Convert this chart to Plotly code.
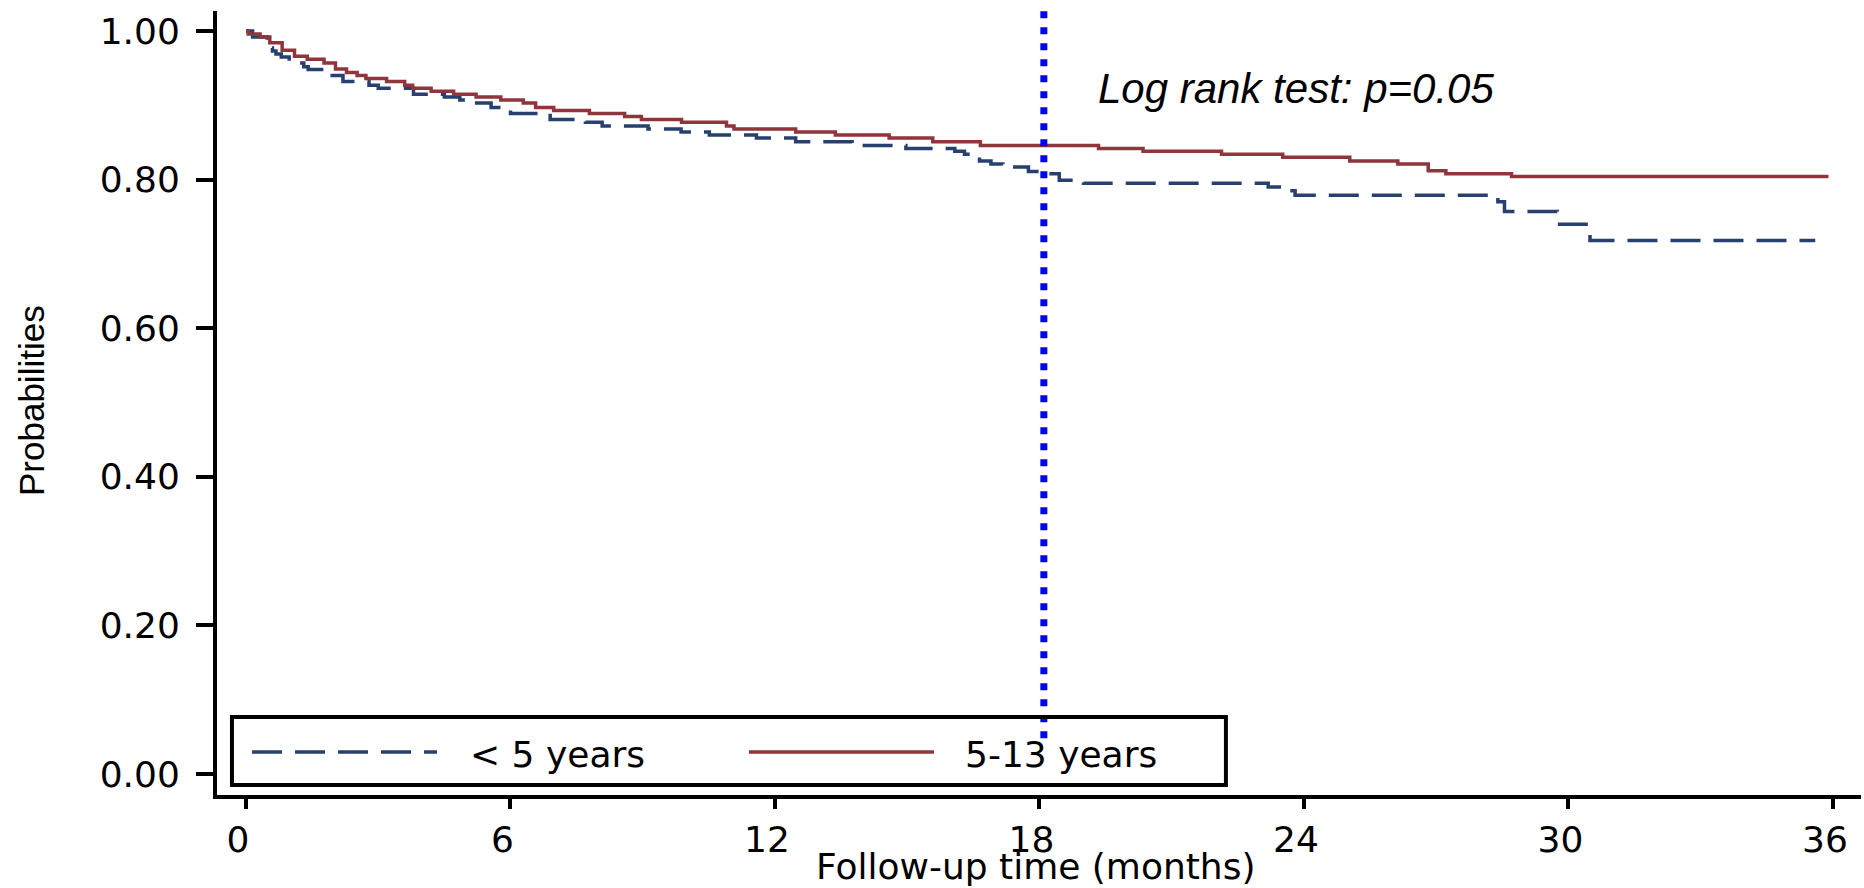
import plotly.graph_objects as go

# ---- data ----
series_names = ["< 5 years", "5-13 years"]

months_lt5 = [0, 0.15, 0.48, 0.60, 0.68, 0.80, 0.98, 1.31, 1.41, 1.81, 2.20, 2.79, 3.00,
              3.80, 4.50, 4.85, 5.05, 5.56, 6.00, 6.90, 7.70, 8.08, 9.12, 9.87, 10.51,
              11.58, 12.47, 13.75, 14.97, 16.08, 16.30, 16.64, 16.90, 17.17, 17.75, 18.06,
              18.45, 19.00, 23.19, 23.67, 23.80, 28.40, 28.55, 29.75, 30.49, 35.60]
surv_lt5 = [1.000, 0.992, 0.977, 0.973, 0.969, 0.965, 0.957, 0.952, 0.948, 0.940, 0.932, 0.927, 0.923,
            0.915, 0.911, 0.907, 0.903, 0.897, 0.889, 0.881, 0.877, 0.872, 0.868, 0.864, 0.860,
            0.856, 0.851, 0.846, 0.842, 0.838, 0.834, 0.825, 0.821, 0.817, 0.811, 0.808,
            0.799, 0.795, 0.790, 0.785, 0.779, 0.770, 0.757, 0.740, 0.718, 0.718]

months_5_13 = [0, 0.05, 0.32, 0.54, 0.82, 1.10, 1.39, 1.77, 2.03, 2.28, 2.52, 2.72, 3.19, 3.60,
               3.78, 4.20, 4.71, 5.22, 5.78, 6.29, 6.57, 6.98, 7.79, 8.59, 8.97, 9.88, 10.90,
               11.07, 12.47, 13.37, 14.59, 15.58, 16.66, 19.34, 20.35, 22.13, 23.52, 25.04,
               26.13, 26.82, 27.22, 28.71, 35.90]
surv_5_13 = [1.000, 0.996, 0.992, 0.984, 0.974, 0.966, 0.962, 0.957, 0.949, 0.944, 0.940, 0.936, 0.932, 0.927,
             0.923, 0.919, 0.915, 0.911, 0.907, 0.903, 0.897, 0.893, 0.889, 0.885, 0.881, 0.877, 0.872,
             0.868, 0.864, 0.860, 0.856, 0.851, 0.846, 0.842, 0.838, 0.834, 0.830, 0.825,
             0.821, 0.812, 0.808, 0.804, 0.804]

x_ticks = [0, 6, 12, 18, 24, 30, 36]
y_ticks = [0.0, 0.2, 0.4, 0.6, 0.8, 1.0]
cutoff_month = 18.1
cutoff_from = 0.048
annotation_text = "Log rank test: p=0.05"
x_title = "Follow-up time (months)"
y_title = "Probabilities"

# ---- styles ----
BLUE = "#27406F"
RED = "#90353B"
FONT = dict(family="DejaVu Sans", size=36, color="black")
DASH = "30px,13px"

fig = go.Figure()
fig.add_trace(go.Scatter(x=months_lt5, y=surv_lt5, mode="lines", line_shape="hv",
                         name=series_names[0],
                         line=dict(color=BLUE, width=3.5, dash=DASH)))
fig.add_trace(go.Scatter(x=months_5_13, y=surv_5_13, mode="lines", line_shape="hv",
                         name=series_names[1],
                         line=dict(color=RED, width=3.5)))

# vertical dotted reference line
fig.add_shape(type="line", xref="x", yref="y", x0=cutoff_month, x1=cutoff_month,
              y0=cutoff_from, y1=1.027, line=dict(color="#0000FF", width=7, dash="7px,9px"))

# legend box (custom, drawn in paper coords)
fig.add_shape(type="rect", xref="paper", yref="paper", x0=0.0091, x1=0.6137, y0=0.0128, y1=0.0995,
              line=dict(color="black", width=4), fillcolor="rgba(0,0,0,0)")
fig.add_shape(type="line", xref="paper", yref="paper", x0=0.0213, x1=0.1338, y0=0.0548, y1=0.0548,
              line=dict(color=BLUE, width=3.5, dash=DASH))
fig.add_shape(type="line", xref="paper", yref="paper", x0=0.3236, x1=0.4361, y0=0.0548, y1=0.0548,
              line=dict(color=RED, width=3.5))
fig.add_annotation(xref="paper", yref="paper", x=0.1527, y=0.0517, xanchor="left", yanchor="middle",
                   text=series_names[0], showarrow=False, font=FONT)
fig.add_annotation(xref="paper", yref="paper", x=0.4538, y=0.0517, xanchor="left", yanchor="middle",
                   text=series_names[1], showarrow=False, font=FONT)

# statistic label
fig.add_annotation(xref="x", yref="y", x=19.28, y=0.923, xanchor="left", yanchor="middle",
                   text=annotation_text, showarrow=False,
                   font=dict(family="Liberation Sans", size=42, color="black", style="italic"))

# axis titles
fig.add_annotation(xref="paper", yref="paper", x=0.4979, y=-0.0918, xanchor="center", yanchor="middle",
                   text=x_title, showarrow=False, font=FONT)
fig.add_annotation(xref="paper", yref="paper", x=-0.1125, y=0.5026, xanchor="center", yanchor="middle",
                   text=y_title, textangle=-90, showarrow=False,
                   font=dict(family="Liberation Sans", size=35, color="black"))

fig.update_xaxes(range=[-0.658, 36.638], tickvals=x_ticks, ticktext=[str(v) for v in x_ticks],
                 showline=True, linewidth=4, linecolor="black", ticks="outside", ticklen=10,
                 tickwidth=4, tickcolor="black", showgrid=False, zeroline=False,
                 tickfont=FONT, ticklabelshift=-8)
fig.update_yaxes(range=[-0.0283, 1.0269], tickvals=y_ticks, tickformat=".2f",
                 showline=True, linewidth=4, linecolor="black", ticks="outside", ticklen=17,
                 tickwidth=4, tickcolor="black", showgrid=False, zeroline=False,
                 tickfont=FONT, ticklabelstandoff=9)

fig.update_layout(width=1864, height=888, showlegend=False,
                  paper_bgcolor="white", plot_bgcolor="white",
                  margin=dict(l=217, r=3, t=11, b=93, autoexpand=False))

fig.write_html("out.html")
